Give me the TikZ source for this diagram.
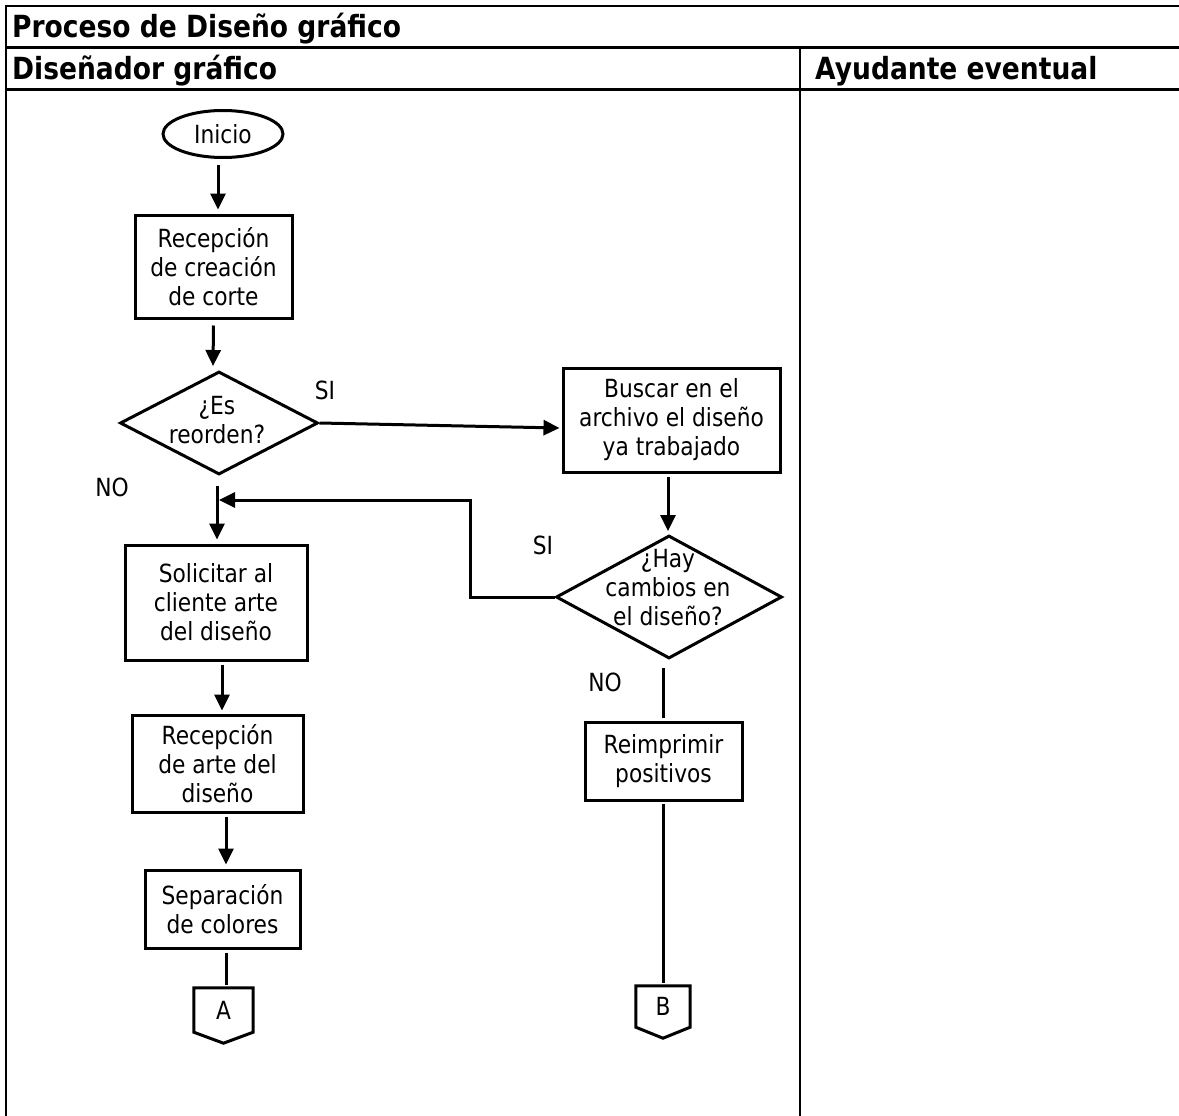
\documentclass[tikz,border=0pt]{standalone}
\usepackage{fontspec}
\setmainfont{DejaVu Sans}[FakeStretch=0.87]
\usetikzlibrary{arrows.meta,shapes.geometric,calc}
\begin{document}
\begin{tikzpicture}[x=1pt,y=-1pt,
  rule/.style={line width=2.6pt},
  body/.style={font=\fontsize{25}{29}\selectfont},
  head/.style={font=\bfseries\fontsize{30.5}{34}\selectfont,anchor=base west,inner sep=0pt},
  proc/.style={body,draw,line width=3pt,rectangle,inner sep=0pt,align=center},
  decision/.style={draw,line width=3pt,diamond,inner sep=0pt},
  terminal/.style={body,draw,line width=3pt,ellipse,inner sep=0pt},
  offpage/.style={body,inner sep=0pt},
  link/.style={line width=3pt},
  arrow/.style={link,-{Triangle[length=16pt,width=15pt]}},
  tag/.style={body,inner sep=0pt,align=center}
]
\useasboundingbox (0,0) rectangle (1179,1116);

% table frame
\draw[rule] (6,6) -- (1179,6);
\draw[rule] (6,47.5) -- (1179,47.5);
\draw[rule] (6,89.5) -- (1179,89.5);
\draw[rule] (6,4.7) -- (6,1116);
\draw[rule] (800,47.5) -- (800,1116);

\node[head] (title) at (12,38) {Proceso de Diseño gráfico};
\node[head] (lane1) at (12,80) {Diseñador gráfico};
\node[head] (lane2) at (815,80) {Ayudante eventual};

% flow nodes
\node[terminal,minimum width=120pt,minimum height=47pt] (ini) at (223,134) {Inicio};
\node[proc,minimum width=157pt,minimum height=103pt] (b1) at (213.5,266.5) {Recepción\\de creación\\de corte};
\node[decision,minimum width=198pt,minimum height=103pt] (d1) at (219,423) {};
\node[tag] (d1t) at (217,420) {¿Es\\reorden?};
\node[proc,minimum width=217pt,minimum height=104pt] (b2) at (671.5,420) {Buscar en el\\archivo el diseño\\ya trabajado};
\node[decision,minimum width=226pt,minimum height=123pt] (d2) at (669,597) {};
\node[tag] (d2t) at (668,588) {¿Hay\\cambios en\\el diseño?};
\node[proc,minimum width=182pt,minimum height=115pt] (b3) at (216,602.5) {Solicitar al\\cliente arte\\del diseño};
\node[proc,minimum width=171pt,minimum height=97pt] (b4) at (217.5,763.5) {Recepción\\de arte del\\diseño};
\node[proc,minimum width=155pt,minimum height=78pt] (b5) at (222.5,909) {Separación\\de colores};
\node[proc,minimum width=157pt,minimum height=78pt] (b6) at (663.5,761) {Reimprimir\\positivos};

% off-page connectors
\node[offpage,minimum width=59pt,minimum height=44pt] (pa) at (223.5,1010) {A};
\node[offpage,minimum width=54pt,minimum height=41pt] (pb) at (663,1006.5) {B};
\draw[link,line join=miter] (pa.north west) -- (pa.north east) -- (pa.south east) -- ($(pa.south)+(0,11)$) -- (pa.south west) -- cycle;
\draw[link,line join=miter] (pb.north west) -- (pb.north east) -- (pb.south east) -- ($(pb.south)+(0,11)$) -- (pb.south west) -- cycle;

% labels
\node[tag] (si1) at (325,390) {SI};
\node[tag] (no1) at (112,487) {NO};
\node[tag] (si2) at (543,545) {SI};
\node[tag] (no2) at (605,682) {NO};

% connectors
\draw[arrow] ([shift={(-5,6)}]ini.south) -- ([shift={(4.5,-4)}]b1.north);
\draw[arrow] ([shift={(0,6)}]b1.south) -- ([shift={(-6,-4)}]d1.north);
\draw[arrow] (d1.east) -- ([shift={(-2,8)}]b2.west);
\draw[arrow] ([shift={(-2,10)}]d1.south) -- ([shift={(1,-4)}]b3.north);
\draw[arrow] (d2.west) -- ++(-84,0) -- ++(0,-97) coordinate (bend) -- (bend -| 219,0);
\draw[arrow] ([shift={(6,3)}]b3.south) -- ([shift={(4.5,-3)}]b4.north);
\draw[arrow] ([shift={(8.5,3)}]b4.south) -- ([shift={(3.5,-4)}]b5.north);
\draw[link] ([shift={(3.5,3)}]b5.south) -- ([shift={(2.5,-3)}]pa.north);
\draw[arrow] ([shift={(-3.5,3)}]b2.south) -- ([shift={(-1,-3)}]d2.north);
\draw[link] ([shift={(-6,8)}]d2.south) -- ([shift={(-0.5,-3)}]b6.north);
\draw[link] ([shift={(-0.5,2)}]b6.south) -- ([shift={(0,-3)}]pb.north);
\end{tikzpicture}
\end{document}
